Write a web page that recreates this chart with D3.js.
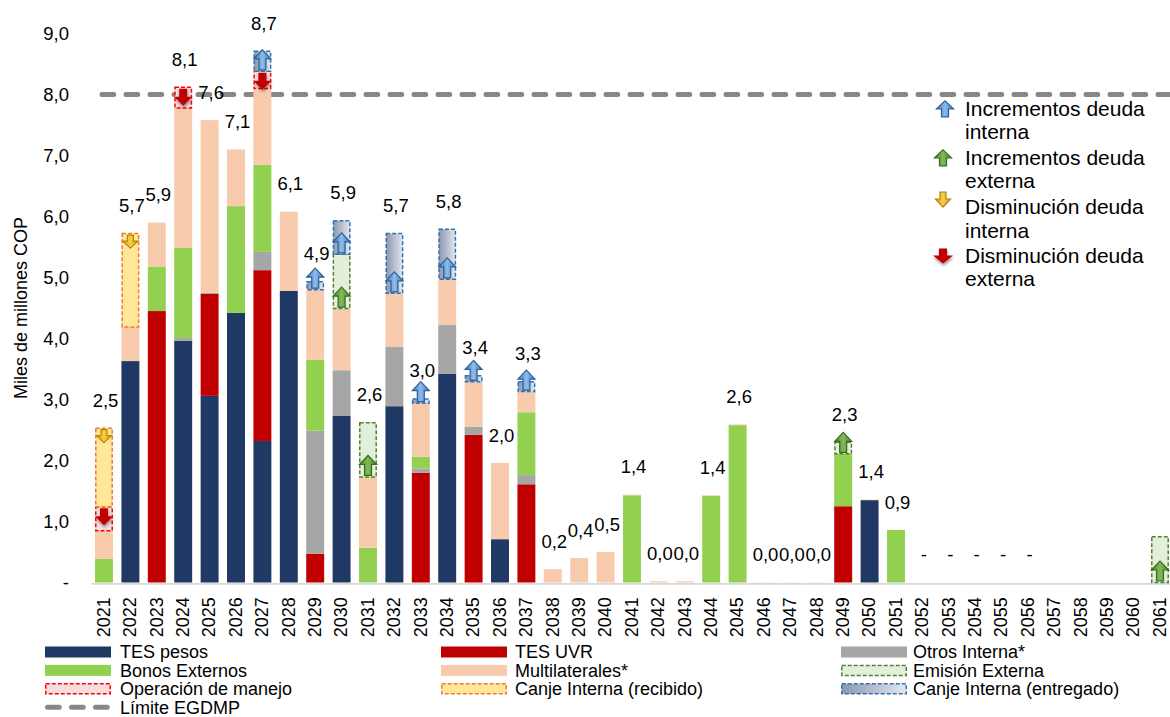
<!DOCTYPE html>
<html>
<head>
<meta charset="utf-8">
<script src="https://cdn.jsdelivr.net/npm/d3@7"></script>
<style>
  body { margin: 0; background: #fff; }
  text { font-family: "Liberation Sans", Arial, sans-serif; fill: #000; }
</style>
</head>
<body>
<svg id="chart" width="1170" height="717"></svg>
<script>
// Vencimientos de deuda por año (miles de millones COP)
const years = ["2021","2022","2023","2024","2025","2026","2027","2028","2029","2030",
               "2031","2032","2033","2034","2035","2036","2037","2038","2039","2040",
               "2041","2042","2043","2044","2045","2046","2047","2048","2049","2050",
               "2051","2052","2053","2054","2055","2056","2057","2058","2059","2060","2061"];

const tesPesos       = [0,3.63,0,3.96,3.06,4.42,2.32,4.78,0,2.73, 0,2.89,0,3.42,0,0.71,0,0,0,0, 0,0,0,0,0,0,0,0,0,1.35, 0,0,0,0,0,0,0,0,0,0, 0];
const tesUVR         = [0,0,4.45,0,1.67,0,2.80,0,0.47,0, 0,0,1.80,0,2.42,0,1.61,0,0,0, 0,0,0,0,0,0,0,0,1.25,0, 0,0,0,0,0,0,0,0,0,0, 0];
const otrosInterna   = [0,0,0,0.05,0.02,0,0.30,0,2.02,0.75, 0,0.97,0.07,0.80,0.13,0,0.15,0,0,0, 0,0,0,0,0,0,0,0,0,0, 0,0,0,0,0,0,0,0,0,0, 0];
const bonosExternos  = [0.39,0,0.73,1.48,0,1.75,1.43,0,1.16,0, 0.57,0,0.19,0,0,0,1.03,0,0,0, 1.43,0,0,1.42,2.58,0,0,0,0.86,0, 0.86,0,0,0,0,0,0,0,0,0, 0];
const multilaterales = [0.46,0.56,0.72,2.29,2.83,0.93,1.25,1.30,1.15,1.01, 1.16,0.88,0.88,0.75,0.74,1.25,0.34,0.22,0.40,0.50, 0.01,0.02,0.02,0.01,0.01,0.004,0.004,0.004,0,0.01, 0,0,0,0,0,0,0,0,0,0, 0];

// Operaciones sobre el perfil
const operacionManejo = [0.39,0,0,0.34,0,0,0.28,0,0,0, 0,0,0,0,0,0,0,0,0,0, 0,0,0,0,0,0,0,0,0,0, 0,0,0,0,0,0,0,0,0,0, 0];
const canjeRecibido   = [1.29,1.53,0,0,0,0,0,0,0,0, 0,0,0,0,0,0,0,0,0,0, 0,0,0,0,0,0,0,0,0,0, 0,0,0,0,0,0,0,0,0,0, 0];
const emisionExterna  = [0,0,0,0,0,0,0,0,0,0.89, 0.89,0,0,0,0,0,0,0,0,0, 0,0,0,0,0,0,0,0,0.19,0, 0,0,0,0,0,0,0,0,0,0, 0.75];
const canjeEntregado  = [0,0,0,0,0,0,0.33,0,0.13,0.55, 0,0.98,0.07,0.82,0.10,0,0.16,0,0,0, 0,0,0,0,0,0,0,0,0,0, 0,0,0,0,0,0,0,0,0,0, 0];

const sinEtiqueta = ["2057","2058","2059","2060","2061"];
const limite = 8.0;
const yTicks = [0,1,2,3,4,5,6,7,8,9];

const legendLabels = [
  ["TES pesos", "Bonos Externos", "Operación de manejo", "Límite EGDMP"],
  ["TES UVR", "Multilaterales*", "Canje Interna (recibido)"],
  ["Otros Interna*", "Emisión Externa", "Canje Interna (entregado)"]
];
const arrowLegend = [
  ["Incrementos deuda", "interna"],
  ["Incrementos deuda", "externa"],
  ["Disminución deuda", "interna"],
  ["Disminución deuda", "externa"]
];

// ---- series set-up ----
const keys = ["tesPesos","tesUVR","otrosInterna","bonosExternos","multilaterales",
              "operacionManejo","canjeRecibido","emisionExterna","canjeEntregado"];
const source = {tesPesos, tesUVR, otrosInterna, bonosExternos, multilaterales,
                operacionManejo, canjeRecibido, emisionExterna, canjeEntregado};
const rows = years.map((yr, i) => {
  const r = {year: yr};
  keys.forEach(k => r[k] = source[k][i]);
  return r;
});

const style = {
  tesPesos:        {fill: "#203864"},
  tesUVR:          {fill: "#C00000"},
  otrosInterna:    {fill: "#A6A6A6"},
  bonosExternos:   {fill: "#92D050"},
  multilaterales:  {fill: "#F8CBAD"},
  operacionManejo: {fill: "#F7DEDE", stroke: "#FF0000", arrow: "red"},
  canjeRecibido:   {fill: "#FFE699", stroke: "#ED7D31", arrow: "yellow"},
  emisionExterna:  {fill: "#E2EFDA", stroke: "#548235", arrow: "green"},
  canjeEntregado:  {fill: "url(#gradEntregado)", stroke: "#2E75B6", arrow: "blue"}
};

const svg = d3.select("#chart");
const defs = svg.append("defs");

const gE = defs.append("linearGradient").attr("id", "gradEntregado")
  .attr("x1", "0%").attr("x2", "100%").attr("y1", "0%").attr("y2", "0%");
gE.append("stop").attr("offset", "0%").attr("stop-color", "#8D96B0");
gE.append("stop").attr("offset", "100%").attr("stop-color", "#E4E7EE");

function hGrad(id, edge, mid) {
  const g = defs.append("linearGradient").attr("id", id)
    .attr("x1", "0%").attr("x2", "100%").attr("y1", "0%").attr("y2", "0%");
  g.append("stop").attr("offset", "0%").attr("stop-color", edge);
  g.append("stop").attr("offset", "50%").attr("stop-color", mid);
  g.append("stop").attr("offset", "100%").attr("stop-color", edge);
}
hGrad("gBlue", "#3A78BE", "#8DBDE8");
hGrad("gGreen", "#4B8A2A", "#7FB95A");
hGrad("gYellow", "#D9A300", "#F7CD4A");

const shadow = defs.append("filter").attr("id", "sombra")
  .attr("x", "-50%").attr("y", "-50%").attr("width", "200%").attr("height", "200%");
shadow.append("feDropShadow").attr("dx", 0.5).attr("dy", 2).attr("stdDeviation", 1.6)
  .attr("flood-color", "#000").attr("flood-opacity", 0.45);

const arrowStyle = {
  blue:   {fill: "url(#gBlue)",   stroke: "#2E5E98", w: 17, h: 20, hh: 9, sw: 7, dir: "up"},
  green:  {fill: "url(#gGreen)",  stroke: "#3B6B20", w: 17, h: 20, hh: 9, sw: 7, dir: "up"},
  yellow: {fill: "url(#gYellow)", stroke: "#B8860B", w: 15, h: 13, hh: 7, sw: 6, dir: "down"},
  red:    {fill: "#C00000",       stroke: "none",    w: 18, h: 17, hh: 9, sw: 8, dir: "down"}
};

function arrowPath(a) {
  const {w, h, hh, sw} = a;
  if (a.dir === "up") {
    return `M${-sw/2},0 L${-sw/2},${-(h-hh)} L${-w/2},${-(h-hh)} L0,${-h} L${w/2},${-(h-hh)} L${sw/2},${-(h-hh)} L${sw/2},0 Z`;
  }
  return `M${-sw/2},0 L${-sw/2},${h-hh} L${-w/2},${h-hh} L0,${h} L${w/2},${h-hh} L${sw/2},${h-hh} L${sw/2},0 Z`;
}

// ---- scales ----
const x = d3.scaleBand().domain(years).range([90.8, 1173.2]).paddingInner(0.32).paddingOuter(0.16);
const y = d3.scaleLinear().domain([0, 9]).range([582.5, 33.5]);
const fmt = v => v === 0 ? "-" : d3.format(".1f")(v).replace(".", ",");

// ---- axes ----
const yAxis = svg.append("g").attr("transform", "translate(71,0)")
  .call(d3.axisLeft(y).tickValues(yTicks).tickSize(0).tickPadding(2).tickFormat(fmt));
yAxis.select(".domain").remove();
yAxis.selectAll("text").attr("font-size", 18.5).attr("font-family", "Liberation Sans, Arial, sans-serif")
  .attr("fill", "#000").attr("dy", "0.35em");

svg.append("text")
  .attr("transform", "translate(26.5,308) rotate(-90)")
  .attr("text-anchor", "middle").attr("font-size", 18)
  .text("Miles de millones COP");

// Límite line (behind the bars)
svg.append("line")
  .attr("x1", 102).attr("x2", 1170)
  .attr("y1", y(limite)).attr("y2", y(limite))
  .attr("stroke", "#878787").attr("stroke-width", 5)
  .attr("stroke-linecap", "round").attr("stroke-dasharray", "11.7,12.3");

const xAxis = svg.append("g").attr("transform", "translate(0,583.3)")
  .call(d3.axisBottom(x).tickSize(0).tickSizeOuter(0));
xAxis.select(".domain").attr("stroke", "#D9D9D9").attr("stroke-width", 1.8);
xAxis.selectAll("text")
  .attr("font-size", 18).attr("font-family", "Liberation Sans, Arial, sans-serif").attr("fill", "#000")
  .attr("transform", "rotate(-90)")
  .attr("text-anchor", "end")
  .attr("x", -14).attr("y", 5.8).attr("dy", 0);

// ---- stacked bars ----
const stacked = d3.stack().keys(keys)(rows);
const bw = x.bandwidth();

stacked.forEach(series => {
  const st = style[series.key];
  const g = svg.append("g").attr("class", "serie-" + series.key);
  const segs = series.filter(d => d[1] - d[0] > 0);
  const r = g.selectAll("rect").data(segs).join("rect")
    .attr("x", d => x(d.data.year))
    .attr("width", bw)
    .attr("y", d => y(d[1]))
    .attr("height", d => y(d[0]) - y(d[1]))
    .attr("fill", st.fill);
  if (st.stroke) {
    r.attr("x", d => x(d.data.year) + 0.75)
     .attr("width", bw - 1.5)
     .attr("stroke", st.stroke).attr("stroke-width", 1.5)
     .attr("stroke-dasharray", "4,2");
  }
});

// arrows on the operation boxes
stacked.forEach(series => {
  const st = style[series.key];
  if (!st.arrow) return;
  const a = arrowStyle[st.arrow];
  series.filter(d => d[1] - d[0] > 0).forEach(d => {
    const cx = x(d.data.year) + bw / 2;
    const top = y(d[1]), bottom = y(d[0]);
    const ty = a.dir === "up" ? bottom - 1.5 : top + 1.5;
    svg.append("path")
      .attr("d", arrowPath(a))
      .attr("transform", `translate(${cx},${ty})`)
      .attr("fill", a.fill)
      .attr("stroke", a.stroke).attr("stroke-width", a.stroke === "none" ? 0 : 1.2)
      .attr("filter", st.arrow === "red" ? "url(#sombra)" : null);
  });
});

// total labels
const totals = rows.map(r => ({year: r.year, total: Math.round(d3.sum(keys, k => r[k]) * 1000) / 1000}));
svg.append("g").selectAll("text")
  .data(totals.filter(t => !sinEtiqueta.includes(t.year)))
  .join("text")
  .attr("x", d => x(d.year) + bw / 2 + 1.5)
  .attr("y", d => y(d.total) - 21.4)
  .attr("text-anchor", "middle")
  .attr("font-size", 18.5)
  .text(d => fmt(d.total));

// ---- bottom legend ----
const legendCols = [45, 441, 841];
const legendText = [120, 515, 913];
const legendRows = [652, 670.4, 688.8, 707.2];
const legendKeys = [
  ["tesPesos", "bonosExternos", "operacionManejo", "limite"],
  ["tesUVR", "multilaterales", "canjeRecibido"],
  ["otrosInterna", "emisionExterna", "canjeEntregado"]
];
const lg = svg.append("g");
legendKeys.forEach((col, ci) => {
  col.forEach((k, ri) => {
    const yc = legendRows[ri];
    if (k === "limite") {
      lg.append("line")
        .attr("x1", legendCols[ci] + 2.5).attr("x2", legendCols[ci] + 67)
        .attr("y1", yc).attr("y2", yc)
        .attr("stroke", "#878787").attr("stroke-width", 5)
        .attr("stroke-linecap", "round").attr("stroke-dasharray", "11.7,12.3");
    } else {
      const st = style[k];
      const rr = lg.append("rect")
        .attr("x", legendCols[ci]).attr("y", yc - 5.5)
        .attr("width", 66).attr("height", 11)
        .attr("fill", st.fill);
      if (st.stroke) {
        rr.attr("x", legendCols[ci] + 0.75).attr("y", yc - 5)
          .attr("width", 64.5).attr("height", 10)
          .attr("stroke", st.stroke).attr("stroke-width", 1.5).attr("stroke-dasharray", "4,2");
      }
    }
    lg.append("text")
      .attr("x", legendText[ci]).attr("y", yc).attr("dy", "0.35em")
      .attr("font-size", 18)
      .text(legendLabels[ci][ri]);
  });
});

// ---- arrow legend ----
const arrowKeys = ["blue", "green", "yellow", "red"];
const arrowLegendY = [115.8, 164.8, 214, 262.5];
const al = svg.append("g");
arrowKeys.forEach((k, i) => {
  const a = arrowStyle[k];
  const by = arrowLegendY[i];
  const icon = {...a, h: a.dir === "up" ? 16 : 15, hh: 8, w: k === "red" ? 20 : a.w};
  const ay = k === "yellow" ? by - 22 : (k === "red" ? by - 14 : by + 1);
  al.append("path")
    .attr("d", arrowPath(icon))
    .attr("transform", `translate(${k === "blue" ? 945 : 943},${ay})`)
    .attr("fill", a.fill)
    .attr("stroke", a.stroke).attr("stroke-width", a.stroke === "none" ? 0 : 1.2)
    .attr("filter", k === "red" ? "url(#sombra)" : null);
  arrowLegend[i].forEach((line, li) => {
    al.append("text")
      .attr("x", 965).attr("y", by + li * 23.5)
      .attr("font-size", 21)
      .text(line);
  });
});
</script>
</body>
</html>
